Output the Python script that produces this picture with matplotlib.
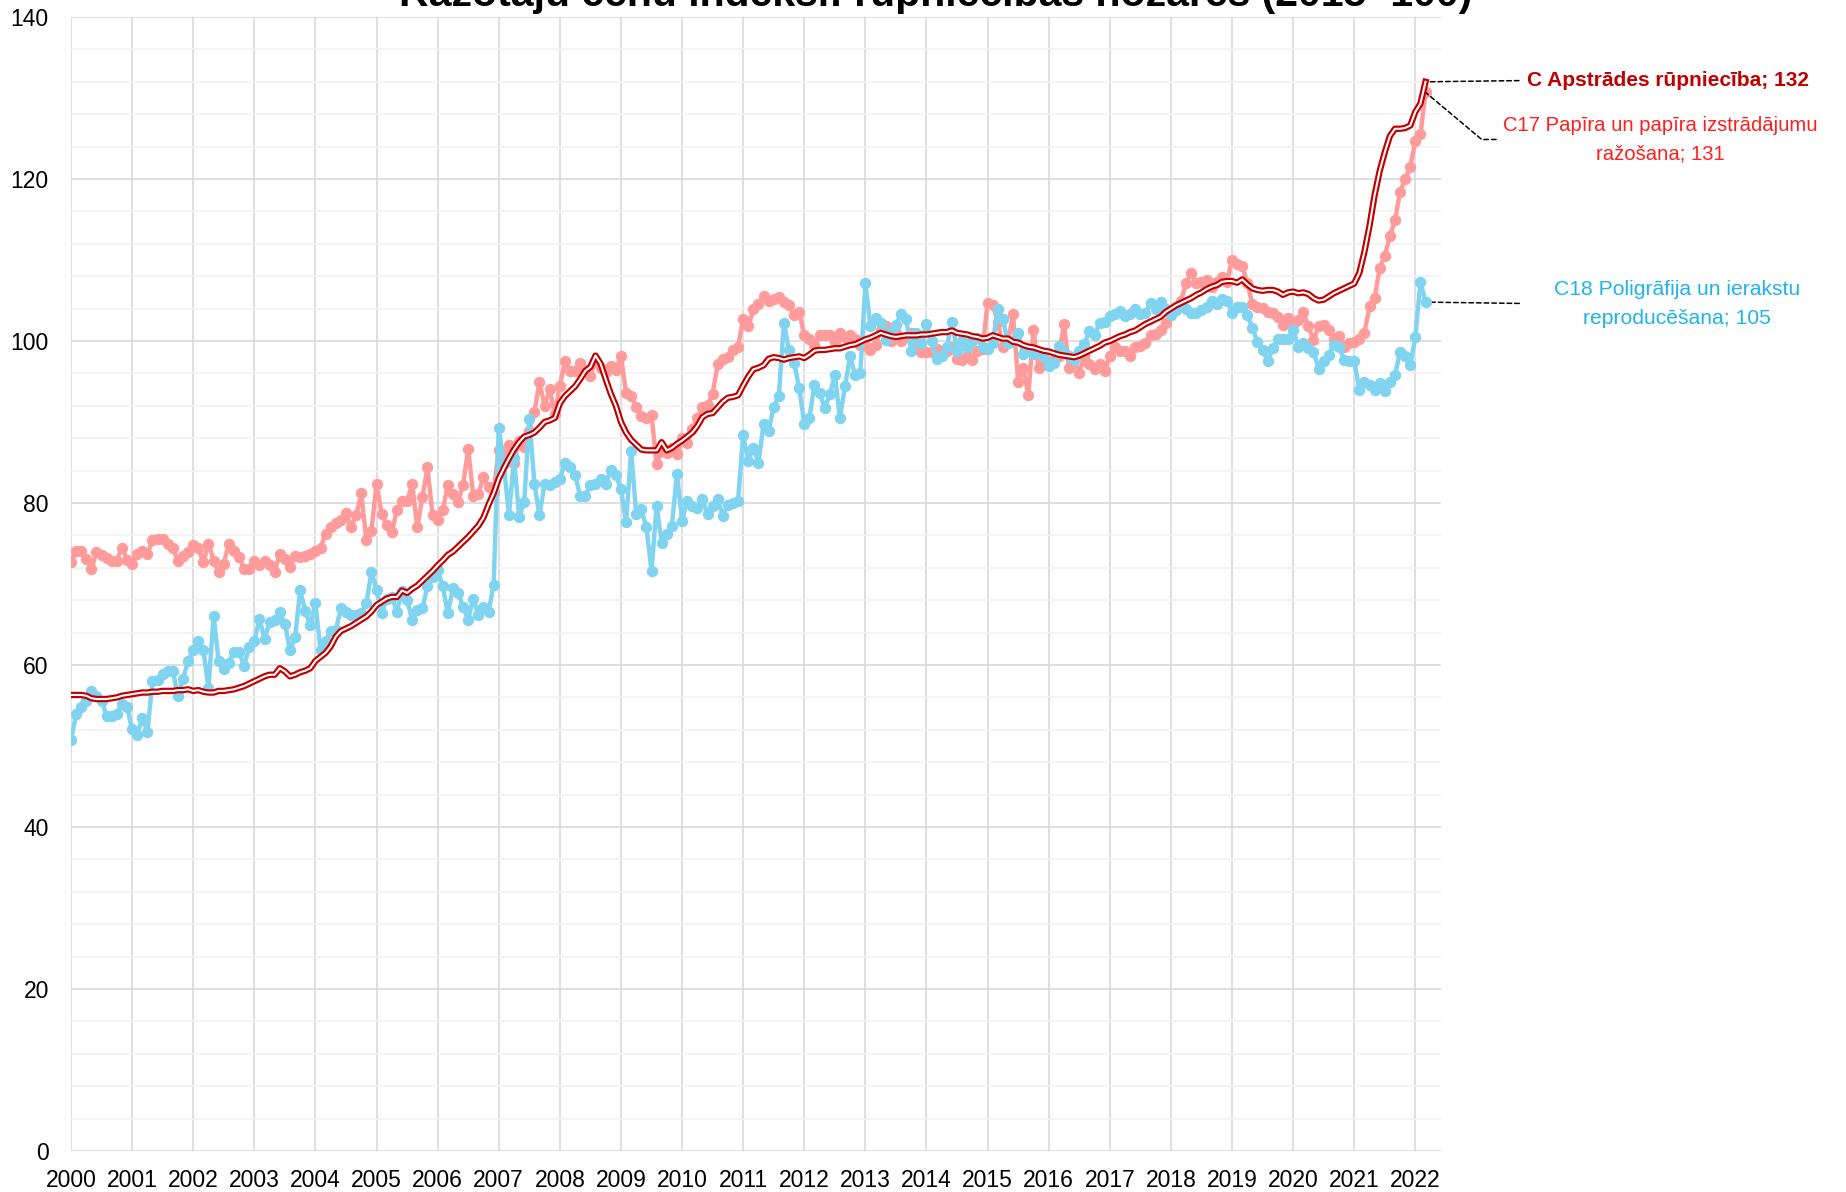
import numpy as np
import matplotlib
matplotlib.use("Agg")
import matplotlib.pyplot as plt
from matplotlib import font_manager


def pick_font(names):
    have = {f.name for f in font_manager.fontManager.ttflist}
    for n in names:
        if n in have:
            return n
    return "DejaVu Sans"


fnt = pick_font(["Liberation Sans Narrow", "Liberation Sans", "Roboto"])
plt.rcParams["font.family"] = [fnt, "DejaVu Sans"]

# monthly values, Jan 2000 - Mar 2022 (2015=100)
c_total = [
    56.3, 56.3, 56.3, 56.2, 55.9, 55.8, 55.8, 55.8, 55.9, 56.0, 56.2, 56.3,   # 2000
    56.4, 56.5, 56.6, 56.6, 56.7, 56.7, 56.8, 56.8, 56.8, 56.9, 56.9, 57.0,   # 2001
    56.8, 56.9, 56.7, 56.6, 56.6, 56.8, 56.8, 56.9, 57.0, 57.2, 57.4, 57.7,   # 2002
    58.0, 58.3, 58.6, 58.8, 58.8, 59.6, 59.2, 58.6, 58.8, 59.1, 59.3, 59.6,   # 2003
    60.5, 61.0, 61.5, 62.3, 63.5, 64.2, 64.5, 64.8, 65.2, 65.6, 66.0, 66.6,   # 2004
    67.4, 67.8, 68.2, 68.4, 68.4, 69.2, 68.9, 69.4, 69.8, 70.4, 71.0, 71.6,   # 2005
    72.3, 72.9, 73.6, 74.0, 74.6, 75.2, 75.8, 76.5, 77.2, 78.2, 79.8, 81.2,   # 2006
    83.0, 84.3, 85.5, 86.6, 87.5, 88.2, 88.4, 88.7, 89.3, 90.0, 90.2, 90.5,   # 2007
    92.3, 93.2, 93.8, 94.4, 95.3, 96.3, 96.8, 98.2, 97.2, 95.3, 93.5, 92.0,   # 2008
    90.0, 88.7, 87.8, 87.2, 86.6, 86.5, 86.5, 86.5, 87.5, 86.5, 86.8, 87.3,   # 2009
    87.7, 88.2, 88.7, 89.5, 90.6, 91.0, 91.1, 91.8, 92.5, 93.0, 93.1, 93.3,   # 2010
    94.5, 95.6, 96.5, 96.7, 97.0, 97.8, 98.0, 97.9, 97.7, 97.9, 98.0, 98.1,   # 2011
    97.9, 98.3, 98.8, 98.9, 98.9, 99.0, 99.1, 99.1, 99.3, 99.5, 99.6, 99.9,   # 2012
    100.2, 100.4, 100.7, 101.0, 100.8, 100.6, 100.5, 100.6, 100.7, 100.7, 100.7, 100.8,  # 2013
    100.8, 100.9, 101.0, 101.1, 101.1, 101.3, 101.0, 100.9, 100.8, 100.6, 100.5, 100.3,  # 2014
    100.4, 100.7, 100.5, 100.3, 100.3, 99.9, 99.8, 99.5, 99.3, 99.2, 99.0, 98.8,         # 2015
    98.7, 98.5, 98.3, 98.2, 98.1, 98.0, 98.2, 98.5, 98.8, 99.1, 99.4, 99.8,              # 2016
    100.0, 100.3, 100.6, 100.8, 101.1, 101.3, 101.7, 102.1, 102.4, 102.7, 103.0, 103.6,  # 2017
    104.0, 104.4, 104.7, 105.0, 105.3, 105.7, 106.0, 106.4, 106.7, 106.9, 107.3, 107.4,  # 2018
    107.4, 107.2, 107.6, 107.0, 106.5, 106.3, 106.2, 106.3, 106.3, 106.1, 105.7, 106.0,  # 2019
    106.1, 105.9, 106.0, 105.8, 105.3, 105.0, 105.1, 105.5, 105.9, 106.2, 106.5, 106.8,  # 2020
    107.1, 108.4, 111.0, 114.2, 118.0, 121.0, 123.3, 125.3, 126.2, 126.2, 126.3, 126.6,  # 2021
    128.3, 129.3, 132.0,                                                                  # 2022
]

c17 = [
    72.7, 74.1, 74.1, 73.1, 71.9, 73.9, 73.6, 73.2, 72.9, 72.9, 74.5, 73.0,   # 2000
    72.5, 73.7, 74.1, 73.7, 75.4, 75.6, 75.6, 75.0, 74.4, 72.9, 73.5, 73.9,   # 2001
    74.8, 74.4, 72.7, 75.0, 72.9, 71.5, 72.5, 75.0, 74.1, 73.3, 71.9, 71.9,   # 2002
    72.9, 72.3, 72.8, 72.3, 71.5, 73.7, 73.1, 72.1, 73.5, 73.3, 73.5, 73.7,   # 2003
    74.1, 74.5, 76.2, 77.0, 77.5, 77.9, 78.8, 77.0, 78.5, 81.2, 75.4, 76.6,   # 2004
    82.4, 78.7, 77.3, 76.4, 79.1, 80.3, 80.3, 82.3, 77.0, 80.7, 84.4, 78.5,   # 2005
    77.9, 79.1, 82.2, 81.1, 80.1, 82.2, 86.7, 80.9, 81.1, 83.2, 82.0, 81.4,   # 2006
    86.6, 85.7, 87.1, 85.0, 87.7, 86.9, 88.9, 91.2, 94.9, 92.0, 94.1, 91.0,   # 2007
    94.5, 97.5, 96.3, 96.3, 97.3, 96.4, 95.7, 97.5, 96.7, 96.2, 96.9, 96.4,   # 2008
    98.2, 93.6, 93.2, 91.9, 90.7, 90.5, 90.9, 84.8, 86.4, 86.2, 86.8, 86.0,   # 2009
    88.0, 87.4, 89.1, 90.5, 91.9, 92.1, 93.5, 97.1, 97.8, 98.0, 98.9, 99.3,   # 2010
    102.7, 101.8, 103.9, 104.6, 105.5, 105.0, 105.2, 105.4, 104.8, 104.4, 103.2, 103.6,  # 2011
    100.7, 100.3, 99.5, 100.7, 100.7, 100.7, 99.9, 101.0, 100.5, 100.8, 100.3, 99.5,     # 2012
    99.5, 98.9, 99.5, 101.4, 101.8, 100.0, 101.0, 100.0, 100.5, 101.0, 99.8, 98.6,       # 2013
    98.6, 98.6, 99.0, 98.6, 98.8, 99.2, 97.8, 97.6, 98.2, 97.6, 98.8, 99.0,             # 2014
    104.7, 104.5, 102.4, 99.2, 99.8, 103.3, 94.9, 96.7, 93.3, 101.4, 96.7, 97.1,         # 2015
    97.1, 97.6, 98.2, 102.1, 96.7, 97.6, 96.1, 98.2, 97.2, 96.5, 97.1, 96.3,            # 2016
    98.2, 99.2, 98.8, 98.8, 98.2, 99.2, 99.4, 99.8, 100.8, 100.9, 101.4, 102.2,          # 2017
    103.4, 104.2, 105.0, 107.2, 108.4, 107.2, 107.3, 107.5, 106.7, 107.3, 107.9, 107.3,  # 2018
    110.0, 109.5, 109.3, 107.1, 104.6, 104.2, 104.1, 103.6, 103.4, 103.0, 102.0, 102.8,  # 2019
    102.0, 102.6, 103.6, 101.8, 100.1, 101.8, 102.0, 101.4, 100.3, 100.6, 99.3, 99.8,    # 2020
    99.9, 100.3, 101.0, 104.3, 105.3, 109.0, 110.5, 113.0, 114.9, 118.4, 120.0, 121.5,   # 2021
    124.7, 125.5, 130.7,                                                                  # 2022
]

c18 = [
    50.7, 53.9, 54.8, 55.5, 56.8, 56.2, 55.6, 53.7, 53.7, 53.9, 55.2, 54.8,   # 2000
    52.1, 51.3, 53.5, 51.7, 58.0, 58.1, 58.9, 59.3, 59.2, 56.2, 58.3, 60.5,   # 2001
    61.8, 63.0, 61.8, 57.2, 66.1, 60.5, 59.5, 60.3, 61.6, 61.6, 59.9, 62.2,   # 2002
    63.0, 65.7, 63.2, 65.3, 65.5, 66.5, 65.1, 61.8, 63.4, 69.2, 66.7, 64.9,   # 2003
    67.6, 61.8, 63.0, 64.2, 64.3, 67.0, 66.6, 66.2, 66.2, 66.4, 67.6, 71.5,   # 2004
    69.3, 66.4, 68.2, 68.4, 66.6, 69.1, 68.0, 65.6, 66.8, 67.0, 69.7, 70.9,   # 2005
    71.7, 69.7, 66.4, 69.5, 68.9, 67.2, 65.6, 68.2, 66.2, 67.2, 66.6, 69.9,   # 2006
    89.3, 84.8, 78.5, 85.5, 78.3, 80.1, 90.4, 82.4, 78.5, 82.4, 82.2, 82.6,   # 2007
    83.0, 85.0, 84.4, 83.4, 80.9, 80.9, 82.2, 82.4, 83.0, 82.4, 84.1, 83.5,   # 2008
    81.7, 77.6, 86.4, 78.6, 79.2, 77.0, 71.6, 79.6, 75.1, 76.2, 77.2, 83.6,   # 2009
    77.8, 80.3, 79.6, 79.4, 80.5, 78.6, 79.6, 80.5, 78.4, 79.8, 80.0, 80.3,   # 2010
    88.4, 85.2, 86.8, 85.0, 89.7, 88.9, 91.9, 93.2, 102.2, 98.9, 97.3, 94.2,  # 2011
    89.8, 90.5, 94.6, 93.6, 91.7, 93.4, 95.8, 90.5, 94.4, 98.1, 95.8, 96.0,   # 2012
    107.1, 101.8, 102.8, 102.2, 100.1, 101.2, 102.0, 103.3, 102.7, 98.8, 101.0, 99.8,    # 2013
    102.1, 100.0, 97.8, 98.2, 99.2, 102.4, 98.8, 100.0, 99.2, 100.0, 100.4, 99.2,        # 2014
    99.0, 99.8, 103.9, 102.7, 99.8, 100.0, 101.0, 98.4, 99.0, 98.4, 98.6, 98.0,          # 2015
    96.9, 97.3, 99.4, 98.6, 98.2, 97.6, 98.8, 99.6, 101.2, 100.8, 102.2, 102.4,          # 2016
    103.1, 103.3, 103.7, 103.1, 103.3, 103.9, 103.3, 103.5, 104.7, 103.9, 104.8, 104.0,  # 2017
    103.2, 103.8, 104.4, 104.0, 103.4, 103.4, 103.8, 104.2, 105.0, 104.6, 105.2, 105.0,  # 2018
    103.5, 104.2, 104.2, 103.2, 101.6, 99.9, 98.9, 97.5, 99.1, 100.3, 100.2, 100.3,      # 2019
    101.4, 99.3, 99.7, 99.1, 98.7, 96.6, 97.5, 98.3, 99.5, 99.3, 97.7, 97.5,             # 2020
    97.5, 94.0, 95.0, 94.6, 94.0, 94.8, 93.8, 95.0, 95.8, 98.7, 98.1, 97.0,              # 2021
    100.5, 107.3, 104.8,                                                                  # 2022
]

years = list(range(2000, 2023))
title = "Ražotāju cenu indeksi: rūpniecības nozarēs (2015=100)"
label_c = "C Apstrādes rūpniecība; 132"
label_c17 = "C17 Papīra un papīra izstrādājumu\nražošana; 131"
label_c18 = "C18 Poligrāfija un ierakstu\nreproducēšana; 105"

x = 2000 + np.arange(len(c_total)) / 12.0

fig = plt.figure(figsize=(18.46, 11.92), dpi=100)
ax = fig.add_axes([71 / 1846, 41 / 1192, 1370 / 1846, 1134 / 1192])

ax.plot(x, c17, color="#FF9B9B", lw=3.2, marker="o", ms=7.2, zorder=3)
ax.plot(x, c18, color="#80D4EF", lw=3.2, marker="o", ms=7.2, zorder=4)
# double line for the total
ax.plot(x, c_total, color="#C00000", lw=4.6, zorder=5, solid_joinstyle="round")
ax.plot(x, c_total, color="white", lw=1.5, zorder=6, solid_joinstyle="round")

ax.set_xlim(2000, 2022.42)
ax.set_ylim(0, 140)
ax.set_xticks(years)
ax.set_yticks(np.arange(0, 141, 20))
ax.set_yticks(np.arange(0, 141, 4), minor=True)
ax.grid(which="major", axis="both", color="#D9D9D9", lw=1.2, zorder=0)
ax.grid(which="minor", axis="y", color="#F2F2F2", lw=1.2, zorder=0)
ax.set_axisbelow(True)
ax.tick_params(which="both", length=0)
ax.tick_params(axis="x", labelsize=16.5, pad=13)
ax.tick_params(axis="y", labelsize=16.5, pad=16)
for s in ax.spines.values():
    s.set_visible(False)

# title sits partly above the top edge, as in the source image
fig.text(936 / 1846, 1 - 6 / 1192, title, ha="center", va="baseline",
         fontsize=29.5, fontweight="bold")

dash = dict(arrowstyle="-", color="black", lw=1.1, linestyle=(0, (3, 2)))

ax.annotate(label_c, xy=(x[-1], c_total[-1]), xycoords="data",
            xytext=(1.063, 0.944), textcoords="axes fraction",
            ha="left", va="center", fontsize=15, fontweight="bold",
            color="#C00000", annotation_clip=False,
            arrowprops=dict(relpos=(0, 0.5), shrinkA=4, shrinkB=0, **dash))

ax.annotate(label_c17, xy=(x[-1], c17[-1]), xycoords="data",
            xytext=(1.0453, 0.892), textcoords="axes fraction",
            ha="left", va="center", multialignment="center", fontsize=14.6,
            linespacing=1.65, color="#FF1F1F", annotation_clip=False,
            arrowprops=dict(relpos=(0, 0.5), shrinkA=3, shrinkB=0,
                            connectionstyle="angle,angleA=0,angleB=-40,rad=0",
                            **dash))

ax.annotate(label_c18, xy=(x[-1], c18[-1]), xycoords="data",
            xytext=(1.0825, 0.747), textcoords="axes fraction",
            ha="left", va="center", multialignment="center", fontsize=15.2,
            linespacing=1.65, color="#1FB4EA", annotation_clip=False,
            arrowprops=dict(relpos=(0, 0.5), shrinkA=23, shrinkB=0, **dash))

fig.savefig("out.png", dpi=100)
